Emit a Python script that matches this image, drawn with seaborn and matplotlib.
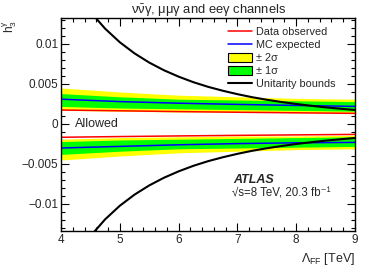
import numpy as np
import pandas as pd
import matplotlib
matplotlib.use("Agg")
import matplotlib.pyplot as plt
import seaborn as sns
from matplotlib.patches import Patch
from matplotlib.lines import Line2D

# ---- data ----
lam = [4, 5, 6, 7, 8, 9]
obs_up = [0.00175, 0.00165, 0.00155, 0.00147, 0.00140, 0.00133]
obs_dn = [-0.00166, -0.00157, -0.00149, -0.00142, -0.00136, -0.00130]
exp_up = [0.0031, 0.0028, 0.0026, 0.00245, 0.00232, 0.0022]
exp_dn = [-0.0030, -0.0028, -0.0026, -0.00245, -0.00235, -0.0023]
s1_up_hi = [0.0038, 0.0034, 0.0031, 0.0030, 0.0029, 0.0028]
s1_up_lo = [0.0022, 0.0020, 0.0019, 0.0018, 0.0017, 0.0016]
s2_up_hi = [0.0045, 0.0040, 0.0036, 0.0034, 0.0032, 0.0031]
s2_up_lo = [0.0017, 0.0016, 0.0015, 0.0015, 0.0014, 0.0014]
s1_dn_hi = [-0.0022, -0.0020, -0.0019, -0.0018, -0.0017, -0.0016]
s1_dn_lo = [-0.0038, -0.0034, -0.0031, -0.0030, -0.0029, -0.0028]
s2_dn_hi = [-0.0019, -0.0017, -0.0016, -0.0015, -0.0015, -0.0014]
s2_dn_lo = [-0.0045, -0.0040, -0.0036, -0.0034, -0.0032, -0.0031]

lam_u = [4.25, 4.5, 4.75, 5.0, 5.25, 5.5, 5.75, 6.0, 6.25, 6.5, 6.75, 7.0,
         7.25, 7.5, 7.75, 8.0, 8.25, 8.5, 8.75, 9.0]
unit_up = [0.01665, 0.01402, 0.01192, 0.01022, 0.00883, 0.00768, 0.00672,
           0.00592, 0.00523, 0.00465, 0.00416, 0.00373, 0.00335, 0.00303,
           0.00275, 0.00250, 0.00228, 0.00208, 0.00191, 0.00175]
unit_dn = [-v for v in unit_up]

sns.set_style("ticks")
plt.rcParams['font.family'] = ['Liberation Sans', 'DejaVu Sans']
plt.rcParams['mathtext.fontset'] = 'custom'
plt.rcParams['mathtext.rm'] = 'Liberation Sans'
plt.rcParams['mathtext.it'] = 'Liberation Sans:italic'
plt.rcParams['mathtext.sf'] = 'Liberation Sans'
plt.rcParams['mathtext.default'] = 'regular'

fig = plt.figure(figsize=(3.74, 2.68), dpi=100)
ax = fig.add_axes([61/374, 1-231/268, 294/374, 213/268])

ax.fill_between(lam, s2_up_lo, s2_up_hi, color='#ffff00', lw=0)
ax.fill_between(lam, s1_up_lo, s1_up_hi, color='#00ff00', lw=0)
ax.fill_between(lam, s2_dn_lo, s2_dn_hi, color='#ffff00', lw=0)
ax.fill_between(lam, s1_dn_lo, s1_dn_hi, color='#00ff00', lw=0)

df_obs = pd.DataFrame({'x': lam, 'up': obs_up, 'dn': obs_dn, 'eu': exp_up, 'ed': exp_dn})
sns.lineplot(data=df_obs, x='x', y='up', color='#ff0000', lw=1.1, ax=ax)
sns.lineplot(data=df_obs, x='x', y='dn', color='#ff0000', lw=1.1, ax=ax)
sns.lineplot(data=df_obs, x='x', y='eu', color='#0000ff', lw=1.1, ax=ax)
sns.lineplot(data=df_obs, x='x', y='ed', color='#0000ff', lw=1.1, ax=ax)
df_u = pd.DataFrame({'x': lam_u, 'up': unit_up, 'dn': unit_dn})
sns.lineplot(data=df_u, x='x', y='up', color='black', lw=1.5, ax=ax)
sns.lineplot(data=df_u, x='x', y='dn', color='black', lw=1.5, ax=ax)

ax.set_xlim(4, 9)
ax.set_ylim(-0.013375, 0.01325)
ax.set_xticks([4, 5, 6, 7, 8, 9])
ax.set_xticklabels(['4', '5', '6', '7', '8', '9'])
ax.set_xticks(np.arange(4, 9.01, 0.2), minor=True)
ax.set_yticks([-0.01, -0.005, 0, 0.005, 0.01])
ax.set_yticklabels(['\u22120.01', '\u22120.005', '0', '0.005', '0.01'])
ax.set_yticks(np.arange(-0.013, 0.0131, 0.001), minor=True)
ax.tick_params(which='both', direction='in', top=True, right=True, labelsize=8.5, color='black', pad=2)
ax.tick_params(which='major', length=6, width=0.8)
ax.tick_params(which='minor', length=3, width=0.8)
for s in ax.spines.values():
    s.set_linewidth(1.0)
    s.set_color('black')
ax.set_xlabel('')
ax.set_ylabel('')

fig.text(355/374, 1-259/268, r'$\Lambda_{FF}$ [TeV]', ha='right', va='center', fontsize=9)
fig.text(10/374, 1-20/268, r'$h_3^{\gamma}$', ha='center', va='top', rotation=90, fontsize=8.5)
fig.text(209/374, 1-14/268, r'$\nu\bar{\nu}\gamma$, $\mu\mu\gamma$ and ee$\gamma$ channels',
         ha='center', va='baseline', fontsize=9.4)

ax.text(4.24, 0.0, 'Allowed', ha='left', va='center', fontsize=9)
ax.text(233/374, 1-180/268, 'ATLAS', transform=fig.transFigure, ha='left', va='center',
        fontsize=9, fontweight='bold', fontstyle='italic')
ax.text(232/374, 1-196/268, '\u221as=8 TeV, 20.3 fb\u207b\u00b9', transform=fig.transFigure,
        ha='left', va='baseline', fontsize=8.3)

handles = [Line2D([], [], color='#ff0000', lw=1.1),
           Line2D([], [], color='#0000ff', lw=1.1),
           Patch(facecolor='#ffff00', edgecolor='black', lw=0.8),
           Patch(facecolor='#00ff00', edgecolor='black', lw=0.8),
           Line2D([], [], color='black', lw=1.5)]
labels = ['Data observed', 'MC expected', '± 2σ', '± 1σ', 'Unitarity bounds']
leg = ax.legend(handles, labels, loc='upper left', bbox_to_anchor=(228/374, 1-27/268),
                bbox_transform=fig.transFigure, frameon=False, fontsize=7.8,
                handlelength=2.2, handleheight=0.9, handletextpad=0.4, labelspacing=0.25,
                borderaxespad=0, borderpad=0)

fig.savefig('out.png', dpi=100)
